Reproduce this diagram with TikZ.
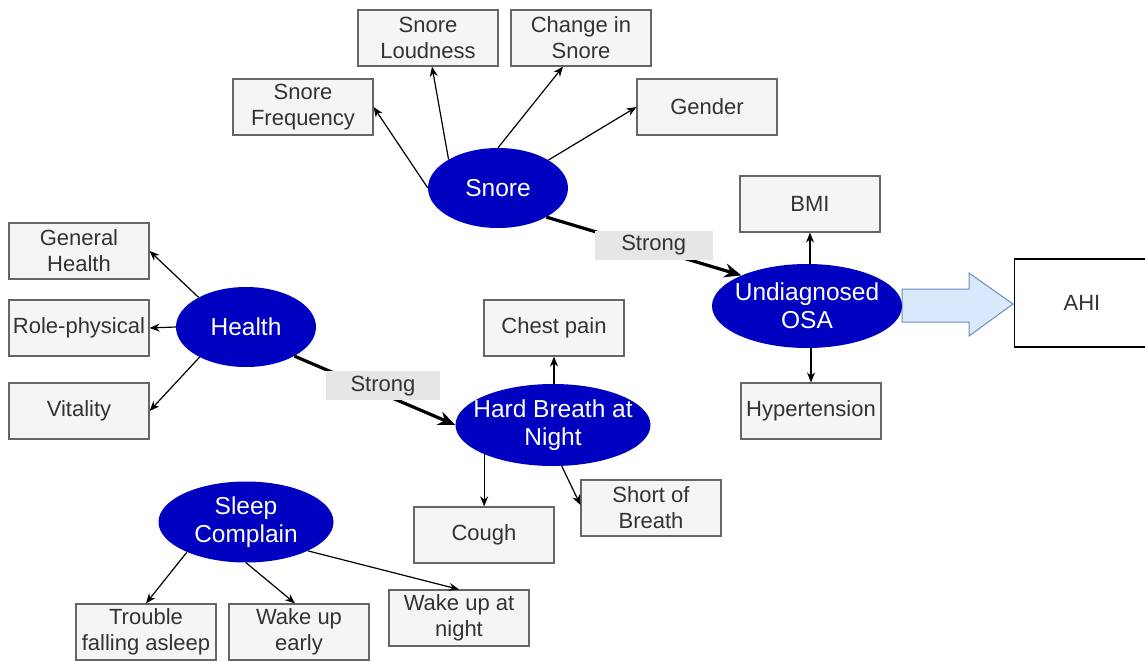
\documentclass[tikz,border=0pt]{standalone}
\usepackage{fontspec}
\setmainfont{Liberation Sans}
\usetikzlibrary{arrows.meta,shapes.geometric}
\definecolor{ellblue}{HTML}{0000C0}
\definecolor{boxfill}{HTML}{F5F5F5}
\definecolor{boxborder}{HTML}{666666}
\definecolor{boxtext}{HTML}{333333}
\definecolor{strongfill}{HTML}{E6E6E6}
\definecolor{arrowfill}{HTML}{DAE8FC}
\definecolor{arrowborder}{HTML}{6C8EBF}
\begin{document}
\begin{tikzpicture}[x=1pt,y=-1pt,
  box/.style={draw=boxborder, fill=boxfill, line width=1.2pt, minimum width=140pt,
    minimum height=56pt, inner sep=1pt, align=center, text=boxtext,
    font=\fontsize{22}{26}\selectfont},
  ell/.style={ellipse, fill=ellblue, inner sep=0pt},
  elltext/.style={text=white, align=center, inner sep=0pt, font=\fontsize{24.5}{28}\selectfont},
  strong/.style={fill=strongfill, text=boxtext, minimum height=29pt, inner sep=2pt,
    font=\fontsize{22}{25}\selectfont},
  thin/.style={line width=1.2pt, -{Stealth[length=10pt,width=8pt]}},
  thick/.style={line width=3.2pt, -{Stealth[length=17pt,width=14pt]}},
  bigarrow/.style={fill=arrowfill, draw=arrowborder, line width=1pt, line join=miter}
]
\useasboundingbox (0,0) rectangle (1145,661);
\fill[white] (0,0) rectangle (1145,661);

% boxes
\node[box] (sfreq) at (303,107) {Snore\\Frequency};
\node[box] (sloud) at (428,38) {Snore\\Loudness};
\node[box] (change) at (581,38) {Change in\\Snore};
\node[box] (gender) at (707,107) {Gender};
\node[box] (bmi) at (810,204) {BMI};
\node[box] (hyper) at (811,411) {Hypertension};
\node[box] (genh) at (79,251) {General\\Health};
\node[box] (role) at (79,328) {Role-physical};
\node[box] (vital) at (79,411) {Vitality};
\node[box] (chest) at (554,328) {Chest pain};
\node[box] (cough) at (484,535) {Cough};
\node[box] (sob) at (651,508) {Short of\\Breath};
\node[box] (trouble) at (146,632) {Trouble\\falling asleep};
\node[box] (wearly) at (299,632) {Wake up\\early};
\node[box] (wnight) at (459,618) {Wake up at\\night};

% AHI
\node[draw=black, fill=white, line width=1.2pt, minimum width=160pt, minimum height=88pt,
  anchor=west, inner sep=0pt] (ahi) at (1014,303) {};
\node[text=boxtext, font=\fontsize{22}{25}\selectfont, inner sep=0pt] (ahitext) at (1082,303) {AHI};

% big arrow
\draw[bigarrow] (902,289) -- (969,289) -- (969,273) -- (1013,304) -- (969,336) -- (969,322) -- (902,322) -- cycle;

% ellipses
\node[ell, minimum width=140pt, minimum height=80pt] (snore) at (498,188) {};
\node[elltext] (snoretext) at (snore) {Snore};
\node[ell, minimum width=190pt, minimum height=84pt] (osa) at (807,306) {};
\node[elltext] (osatext) at (osa) {Undiagnosed\\OSA};
\node[ell, minimum width=140pt, minimum height=80pt] (health) at (246,327) {};
\node[elltext] (healthtext) at (health) {Health};
\node[ell, minimum width=195pt, minimum height=82pt] (hb) at (553,425) {};
\node[elltext] (hbtext) at (hb) {Hard Breath at\\Night};
\node[ell, minimum width=175pt, minimum height=81pt] (sc) at (246,522) {};
\node[elltext] (sctext) at (sc) {Sleep\\Complain};

% snore connectors
\draw[thin] (snore.west) -- (sfreq.east);
\draw[thin] (snore.150) -- ([xshift=4pt]sloud.south);
\draw[thin] (snore.north) -- ([xshift=-18pt]change.south);
\draw[thin] (snore.29) -- (gender.west);
\draw[thick] (snore.-31) -- node[strong, pos=0.55, yshift=4pt, minimum width=118pt] (s1) {Strong} (osa.155);

% osa connectors
\draw[thin] (osa.north -| bmi.south) -- (bmi.south);
\draw[thin] (osa.south -| hyper.north) -- (hyper.north);

% health connectors
\draw[thin] (health.148) -- (genh.east);
\draw[thin] (health.west) -- (role.east);
\draw[thin] (health.213) -- (vital.east);
\draw[thick] (health.-31) -- node[strong, pos=0.55, yshift=8pt, minimum width=114pt] (s2) {Strong} (hb.west);

% hard breath connectors
\draw[thin] (hb.north -| chest.south) -- (chest.south);
\draw[thin] (hb.203) -- (hb.203 |- cough.north);
\draw[thin] (hb.-78) -- ([yshift=3pt]sob.west);

% sleep complain connectors
\draw[thin] (sc.207) -- (trouble.north);
\draw[thin] (sc.south) -- ([xshift=-4pt]wearly.north);
\draw[thin] (sc.-25) -- (wnight.north);
\end{tikzpicture}
\end{document}
